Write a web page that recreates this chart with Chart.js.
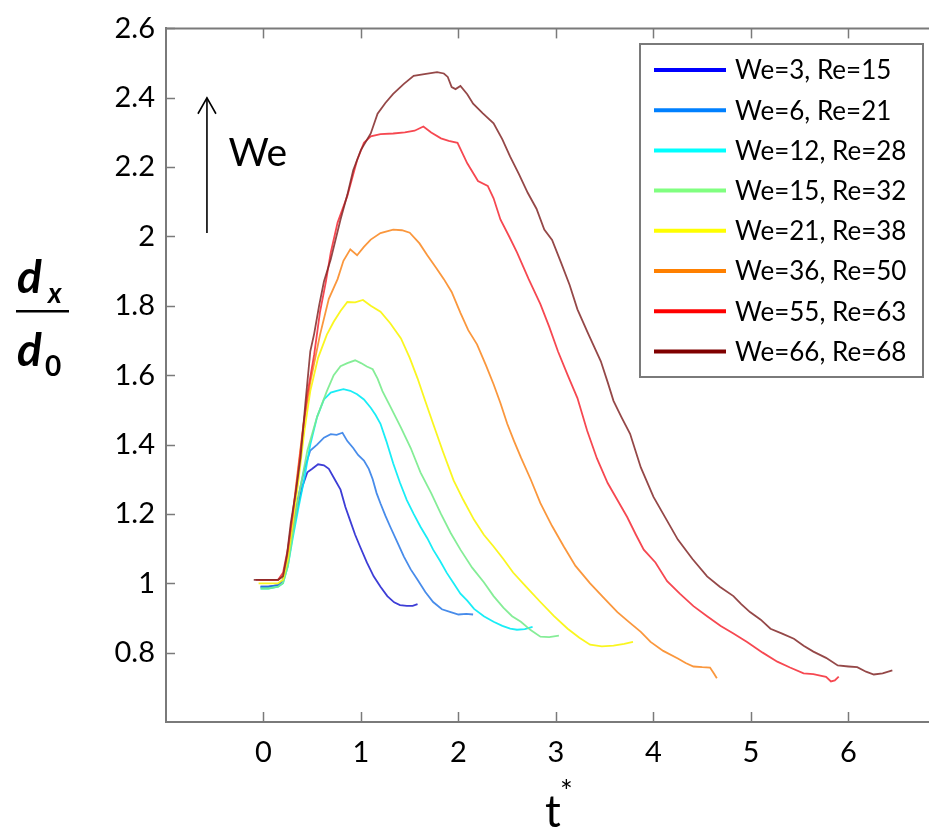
<!DOCTYPE html>
<html>
<head>
<meta charset="utf-8">
<script src="https://cdn.jsdelivr.net/npm/chart.js@4.4.1/dist/chart.umd.min.js"></script>
<style>
  html, body { margin: 0; padding: 0; background: #ffffff; }
  #wrap { width: 929px; height: 833px; position: relative; }
</style>
</head>
<body>
<div id="wrap"><canvas id="c" width="929" height="833"></canvas></div>
<script>
// ---------- data ----------
const seriesLabels = ['We=3, Re=15','We=6, Re=21','We=12, Re=28','We=15, Re=32','We=21, Re=38','We=36, Re=50','We=55, Re=63','We=66, Re=68'];

const t_we3  = [-0.03,0.05,0.15,0.2,0.25,0.3,0.35,0.4,0.45,0.5,0.56,0.62,0.67,0.73,0.79,0.84,0.89,0.94,0.99,1.06,1.13,1.2,1.27,1.34,1.4,1.47,1.53,1.58];
const d_we3  = [0.99,0.99,0.995,1.01,1.06,1.15,1.22,1.28,1.32,1.33,1.343,1.34,1.33,1.30,1.27,1.22,1.18,1.14,1.106,1.06,1.02,0.99,0.963,0.945,0.937,0.935,0.935,0.94];

const t_we6  = [-0.03,0.05,0.15,0.2,0.25,0.3,0.35,0.42,0.48,0.55,0.62,0.69,0.75,0.81,0.86,0.92,0.97,1.03,1.08,1.12,1.16,1.2,1.25,1.3,1.37,1.44,1.51,1.58,1.66,1.74,1.83,1.92,2.0,2.08,2.15];
const d_we6  = [0.99,0.99,0.995,1.01,1.07,1.16,1.24,1.33,1.383,1.40,1.42,1.43,1.428,1.434,1.41,1.39,1.37,1.354,1.33,1.30,1.26,1.23,1.195,1.163,1.12,1.077,1.04,1.01,0.975,0.946,0.925,0.917,0.91,0.912,0.91];

const t_we12 = [-0.03,0.05,0.15,0.2,0.25,0.3,0.36,0.41,0.48,0.55,0.62,0.69,0.75,0.82,0.89,0.96,1.03,1.1,1.15,1.2,1.26,1.33,1.4,1.47,1.54,1.61,1.68,1.74,1.81,1.88,1.95,2.02,2.09,2.16,2.26,2.36,2.45,2.53,2.6,2.68,2.76];
const d_we12 = [0.985,0.985,0.99,1.0,1.05,1.13,1.22,1.289,1.40,1.48,1.53,1.55,1.555,1.56,1.555,1.545,1.53,1.506,1.485,1.46,1.41,1.346,1.29,1.24,1.20,1.163,1.13,1.097,1.065,1.03,1.0,0.97,0.95,0.926,0.905,0.889,0.877,0.869,0.866,0.868,0.874];

const t_we15 = [-0.03,0.05,0.15,0.2,0.25,0.3,0.36,0.45,0.55,0.65,0.72,0.79,0.86,0.94,1.0,1.06,1.12,1.17,1.22,1.3,1.41,1.51,1.61,1.72,1.82,1.92,2.02,2.14,2.26,2.36,2.46,2.55,2.64,2.74,2.84,2.93,3.03];
const d_we15 = [0.985,0.985,0.99,1.0,1.05,1.14,1.25,1.383,1.48,1.554,1.60,1.626,1.635,1.643,1.635,1.625,1.617,1.59,1.554,1.51,1.449,1.39,1.32,1.26,1.20,1.145,1.097,1.045,1.003,0.963,0.93,0.905,0.889,0.865,0.846,0.845,0.849];

const t_we21 = [-0.05,0.05,0.15,0.2,0.25,0.3,0.36,0.42,0.48,0.56,0.65,0.72,0.79,0.86,0.94,1.02,1.1,1.2,1.3,1.41,1.5,1.58,1.66,1.74,1.84,1.95,2.05,2.16,2.26,2.36,2.46,2.56,2.7,2.84,2.98,3.12,3.24,3.35,3.47,3.59,3.7,3.79];
const d_we21 = [1.0,1.0,1.0,1.01,1.07,1.17,1.30,1.44,1.554,1.65,1.717,1.754,1.785,1.811,1.81,1.817,1.80,1.783,1.75,1.706,1.65,1.591,1.525,1.46,1.38,1.297,1.24,1.183,1.14,1.106,1.07,1.031,0.988,0.946,0.905,0.869,0.843,0.823,0.818,0.82,0.825,0.831];

const t_we36 = [-0.05,0.05,0.15,0.2,0.25,0.3,0.35,0.41,0.48,0.58,0.67,0.76,0.82,0.89,0.96,1.03,1.1,1.2,1.33,1.42,1.5,1.6,1.68,1.77,1.85,1.93,2.02,2.1,2.19,2.28,2.36,2.43,2.5,2.57,2.64,2.74,2.84,2.96,3.08,3.2,3.35,3.5,3.63,3.75,3.87,3.97,4.1,4.25,4.33,4.41,4.5,4.58,4.62,4.65];
const d_we36 = [1.01,1.01,1.01,1.02,1.09,1.2,1.32,1.46,1.58,1.717,1.82,1.877,1.93,1.963,1.946,1.97,1.991,2.01,2.02,2.018,2.011,1.98,1.946,1.91,1.877,1.84,1.78,1.73,1.689,1.63,1.574,1.52,1.46,1.41,1.363,1.30,1.231,1.165,1.106,1.05,1.0,0.955,0.917,0.888,0.86,0.831,0.805,0.783,0.77,0.76,0.758,0.757,0.74,0.726];

const t_we55 = [-0.08,0.05,0.15,0.2,0.25,0.3,0.35,0.4,0.45,0.52,0.58,0.64,0.69,0.76,0.86,0.96,1.03,1.1,1.2,1.33,1.45,1.55,1.64,1.72,1.82,1.9,1.99,2.09,2.2,2.3,2.36,2.43,2.52,2.6,2.72,2.84,2.93,3.02,3.12,3.22,3.32,3.42,3.53,3.63,3.73,3.82,3.9,4.02,4.14,4.27,4.41,4.55,4.69,4.82,4.96,5.12,5.27,5.4,5.54,5.64,5.71,5.77,5.82,5.86,5.9];
const d_we55 = [1.01,1.01,1.01,1.03,1.1,1.2,1.31,1.43,1.546,1.66,1.783,1.87,1.954,2.04,2.117,2.22,2.27,2.289,2.295,2.297,2.30,2.305,2.317,2.30,2.283,2.276,2.27,2.211,2.16,2.146,2.11,2.049,2.0,1.954,1.877,1.805,1.74,1.669,1.6,1.534,1.44,1.36,1.289,1.24,1.191,1.14,1.097,1.06,1.006,0.97,0.934,0.905,0.877,0.855,0.831,0.8,0.774,0.757,0.74,0.738,0.734,0.73,0.717,0.72,0.731];

const t_we66 = [-0.1,0.05,0.15,0.2,0.24,0.28,0.33,0.38,0.43,0.48,0.52,0.57,0.62,0.69,0.79,0.86,0.92,1.0,1.1,1.17,1.25,1.33,1.44,1.54,1.65,1.78,1.85,1.89,1.93,1.97,2.02,2.09,2.15,2.25,2.36,2.45,2.53,2.62,2.71,2.8,2.88,2.96,3.05,3.14,3.22,3.33,3.46,3.53,3.59,3.67,3.76,3.87,4.0,4.12,4.25,4.4,4.55,4.68,4.82,4.9,4.99,5.1,5.2,5.32,5.44,5.54,5.64,5.77,5.89,6.0,6.09,6.18,6.26,6.35,6.45];
const d_we66 = [1.01,1.01,1.01,1.02,1.08,1.174,1.26,1.363,1.52,1.669,1.72,1.8,1.87,1.934,2.049,2.12,2.191,2.25,2.297,2.354,2.385,2.411,2.44,2.463,2.468,2.474,2.47,2.46,2.431,2.425,2.434,2.41,2.383,2.355,2.326,2.28,2.23,2.18,2.126,2.08,2.02,1.99,1.926,1.86,1.79,1.72,1.64,1.58,1.526,1.48,1.431,1.334,1.249,1.19,1.126,1.07,1.02,0.99,0.963,0.94,0.917,0.895,0.869,0.855,0.84,0.82,0.803,0.785,0.763,0.76,0.758,0.745,0.737,0.74,0.749];

const xTickValues = [0,1,2,3,4,5,6];
const xTickLabels = ['0','1','2','3','4','5','6'];
const yTickValues = [0.8,1.0,1.2,1.4,1.6,1.8,2.0,2.2,2.4,2.6];
const yTickLabels = ['0.8','1','1.2','1.4','1.6','1.8','2','2.2','2.4','2.6'];

// ---------- styles ----------
const lineColors   = ['#0000ff','#0080ff','#00ffff','#80ff80','#ffff00','#ff8000','#ff0000','#800000'];
const curveColors  = ['rgba(40,40,210,0.9)','rgba(40,120,230,0.85)','rgba(0,235,245,0.9)','rgba(120,235,140,0.9)','rgba(250,245,20,0.95)','rgba(250,140,40,0.9)','rgba(245,40,50,0.85)','rgba(130,40,40,0.85)'];
const tSeries = [t_we3,t_we6,t_we12,t_we15,t_we21,t_we36,t_we55,t_we66];
const dSeries = [d_we3,d_we6,d_we12,d_we15,d_we21,d_we36,d_we55,d_we66];

const AXIS = '#7a7a7a';
const FONT = 'Lato, "Open Sans", sans-serif';

const datasets = seriesLabels.map((lab, i) => ({
  label: lab,
  data: tSeries[i].map((t, k) => ({x: t, y: dSeries[i][k]})),
  borderColor: curveColors[i],
  backgroundColor: lineColors[i],
  borderWidth: 1.8,
  pointRadius: 0,
  tension: 0,
  fill: false
})).reverse();

const decor = {
  id: 'decor',
  afterDraw(chart) {
    const ctx = chart.ctx;
    const xs = chart.scales.x, ys = chart.scales.y;
    const a = chart.chartArea;
    ctx.save();
    // top frame line
    ctx.strokeStyle = AXIS; ctx.lineWidth = 2;
    ctx.beginPath(); ctx.moveTo(a.left, a.top); ctx.lineTo(a.right + 2, a.top); ctx.stroke();
    // inward ticks
    ctx.lineWidth = 1.5;
    xTickValues.forEach(v => {
      const px = Math.round(xs.getPixelForValue(v)) + 0.5;
      ctx.beginPath(); ctx.moveTo(px, a.bottom); ctx.lineTo(px, a.bottom - 10); ctx.stroke();
      ctx.beginPath(); ctx.moveTo(px, a.top); ctx.lineTo(px, a.top + 10); ctx.stroke();
    });
    yTickValues.forEach(v => {
      const py = Math.round(ys.getPixelForValue(v)) + 0.5;
      ctx.beginPath(); ctx.moveTo(a.left, py); ctx.lineTo(a.left + 9, py); ctx.stroke();
    });

    // y-axis title: d_x / d_0
    ctx.fillStyle = '#000';
    ctx.textBaseline = 'alphabetic';
    ctx.textAlign = 'left';
    ctx.font = 'italic bold 46px ' + FONT;
    ctx.fillText('d', 17, 293);
    ctx.fillText('d', 17, 366);
    ctx.font = 'italic bold 28px ' + FONT;
    ctx.fillText('x', 48, 303);
    ctx.font = 'bold 28px ' + FONT;
    ctx.fillText('0', 45, 376);
    ctx.fillRect(16, 310, 53, 2.5);

    // x-axis title: t*
    ctx.font = '44px ' + FONT;
    ctx.textAlign = 'left';
    ctx.fillText('t', 545, 827);
    ctx.font = '30px ' + FONT;
    ctx.fillText('*', 560, 802);

    // annotation arrow "We"
    const ax = xs.getPixelForValue(-0.58);
    const ay0 = ys.getPixelForValue(2.01), ay1 = ys.getPixelForValue(2.4);
    ctx.strokeStyle = '#000'; ctx.lineWidth = 1.6;
    ctx.beginPath(); ctx.moveTo(ax, ay0); ctx.lineTo(ax, ay1); ctx.stroke();
    ctx.beginPath(); ctx.moveTo(ax - 9, ay1 + 16); ctx.lineTo(ax, ay1); ctx.lineTo(ax + 9, ay1 + 16); ctx.stroke();
    ctx.font = '39px ' + FONT;
    ctx.textBaseline = 'middle';
    ctx.fillText('We', xs.getPixelForValue(-0.36), ys.getPixelForValue(2.24));

    // legend box
    const bx = 640, by = 44, bw = 283, bh = 333;
    ctx.fillStyle = '#fff';
    ctx.fillRect(bx, by, bw, bh);
    ctx.strokeStyle = '#7a7a7a'; ctx.lineWidth = 2;
    ctx.strokeRect(bx, by, bw, bh);
    ctx.font = '26px ' + FONT;
    ctx.textBaseline = 'middle';
    seriesLabels.forEach((lab, i) => {
      const yy = 70 + i * 40.2;
      ctx.strokeStyle = lineColors[i]; ctx.lineWidth = 4;
      ctx.beginPath(); ctx.moveTo(654, yy); ctx.lineTo(726, yy); ctx.stroke();
      ctx.fillStyle = '#000';
      ctx.fillText(lab, 735, yy + 1);
    });
    ctx.restore();
  }
};

new Chart(document.getElementById('c'), {
  type: 'line',
  data: { datasets },
  options: {
    responsive: false,
    animation: false,
    events: [],
    layout: { padding: { top: 24, right: 0, left: 0, bottom: 0 } },
    plugins: { legend: { display: false }, tooltip: { enabled: false } },
    scales: {
      x: {
        type: 'linear', min: -1, max: 6.826,
        grid: { display: false, drawTicks: false },
        border: { display: true, color: AXIS, width: 2 },
        afterBuildTicks: s => { s.ticks = xTickValues.map(v => ({ value: v })); },
        afterFit: s => { s.height = 111; },
        ticks: {
          padding: 13, color: '#000', font: { family: FONT, size: 29 },
          maxRotation: 0, autoSkip: false,
          callback: v => xTickLabels[xTickValues.indexOf(v)] ?? ''
        }
      },
      y: {
        type: 'linear', min: 0.6, max: 2.6,
        grid: { display: false, drawTicks: false },
        border: { display: true, color: AXIS, width: 2 },
        afterBuildTicks: s => { s.ticks = yTickValues.map(v => ({ value: v })); },
        afterFit: s => { s.width = 166; },
        ticks: {
          padding: 11, color: '#000', font: { family: FONT, size: 29 },
          autoSkip: false,
          callback: v => { const k = yTickValues.findIndex(q => Math.abs(q - v) < 1e-6); return k >= 0 ? yTickLabels[k] : ''; }
        }
      }
    }
  },
  plugins: [decor]
});
</script>
</body>
</html>
